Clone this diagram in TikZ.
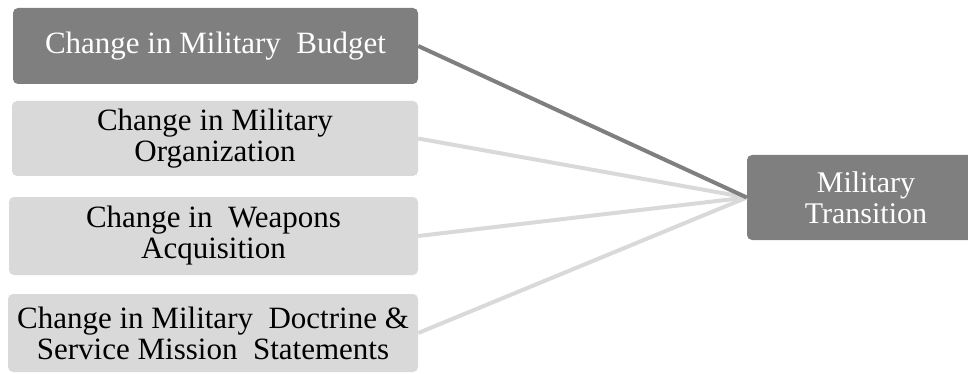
\documentclass[tikz,border=0pt]{standalone}
\usepackage{fontspec}
\setmainfont{Liberation Serif}
\definecolor{darkbox}{HTML}{7F7F7F}
\definecolor{lightbox}{HTML}{D9D9D9}
\begin{document}
\begin{tikzpicture}[x=1pt,y=1pt,
  box/.style={rounded corners=5pt, inner sep=0pt, align=center,
    font=\fontsize{31}{31}\selectfont},
  darkb/.style={box, fill=darkbox, text=white},
  lightb/.style={box, fill=lightbox, text=black},
  darkline/.style={draw=darkbox, line width=4pt},
  lightline/.style={draw=lightbox, line width=4pt}]
\useasboundingbox (0,0) rectangle (968,-374);
\node[darkb, minimum width=405pt, minimum height=76pt] (b1) at (215.5,-46) {Change in Military\ \ Budget};
\node[lightb, minimum width=406pt, minimum height=75pt] (b2) at (215,-138.5) {Change in Military\\Organization};
\node[lightb, minimum width=409pt, minimum height=78pt] (b3) at (213.5,-236) {Change in\ \ Weapons\\Acquisition};
\node[lightb, minimum width=410pt, minimum height=78pt] (b4) at (213,-333) {Change in Military\ \ Doctrine \&\\Service Mission\ \ Statements};
\node[darkb, minimum width=238pt, minimum height=85pt, font=\fontsize{30}{31}\selectfont] (mt) at (866,-197.5) {Military\\Transition};
\path[lightline] (b2.east) -- (mt.west);
\path[lightline] (b3.east) -- (mt.west);
\path[lightline] (b4.east) -- (mt.west);
\path[darkline] (b1.east) -- (mt.west);
\end{tikzpicture}
\end{document}
